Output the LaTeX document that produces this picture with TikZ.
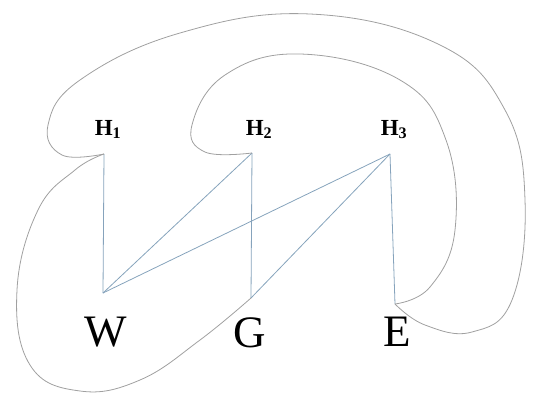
\documentclass[tikz,border=0pt]{standalone}
\usepackage{fontspec}
\setmainfont{Liberation Serif}
\usetikzlibrary{positioning}
\definecolor{edgeblue}{HTML}{86A3BC}
\definecolor{loopgray}{HTML}{A0A0A0}

\begin{document}
\begin{tikzpicture}[x=1pt,y=-1pt, every node/.style={inner sep=0pt,anchor=base},
  hl/.style={font=\fontsize{23}{25}\selectfont\bfseries},
  bl/.style={font=\fontsize{45}{47}\selectfont},
  ln/.style={draw=edgeblue,line width=0.8pt},
  cv/.style={draw=loopgray,line width=0.8pt}]
  \useasboundingbox (0,0) rectangle (540,396);
  % points where the lines meet
  \coordinate (h1) at (104,154);
  \coordinate (h2) at (252,153);
  \coordinate (h3) at (390,154);
  \coordinate (w) at (103,293);
  \coordinate (g) at (251,298);
  \coordinate (e) at (395,304);
  % labels
  \node[hl] (th1) at (108,135) {H\textsubscript{1}};
  \node[hl] (th2) at (259,135) {H\textsubscript{2}};
  \node[hl] (th3) at (394,135) {H\textsubscript{3}};
  \node[bl] (tw) at (106,346) {W};
  \node[bl] (tg) at (250,347) {G};
  \node[bl] (te) at (397,346) {E};
  % straight edges
  \draw[ln] (h1)--(w);
  \draw[ln] (h2)--(w); \draw[ln] (h3)--(w);
  \draw[ln] (h2)--(g); \draw[ln] (h3)--(g);
  \draw[ln] (h3)--(e);
  % curved edges
  \draw[cv] plot[smooth,tension=0.7] coordinates {(h1) (62,155) (48,125) (80,80) (180,33)
    (310,14) (440,45) (505,110) (525,200) (512,300) (472,332) (425,325) (e)};
  \draw[cv] plot[smooth,tension=0.7] coordinates {(h2) (205,152) (192,125) (225,75) (300,54)
    (400,80) (446,140) (455,230) (430,287) (e)};
  \draw[cv] plot[smooth,tension=0.7] coordinates {(h1) (75,170) (38,210) (17,290) (30,365)
    (80,391) (140,380) (200,340) (g)};
\end{tikzpicture}
\end{document}
